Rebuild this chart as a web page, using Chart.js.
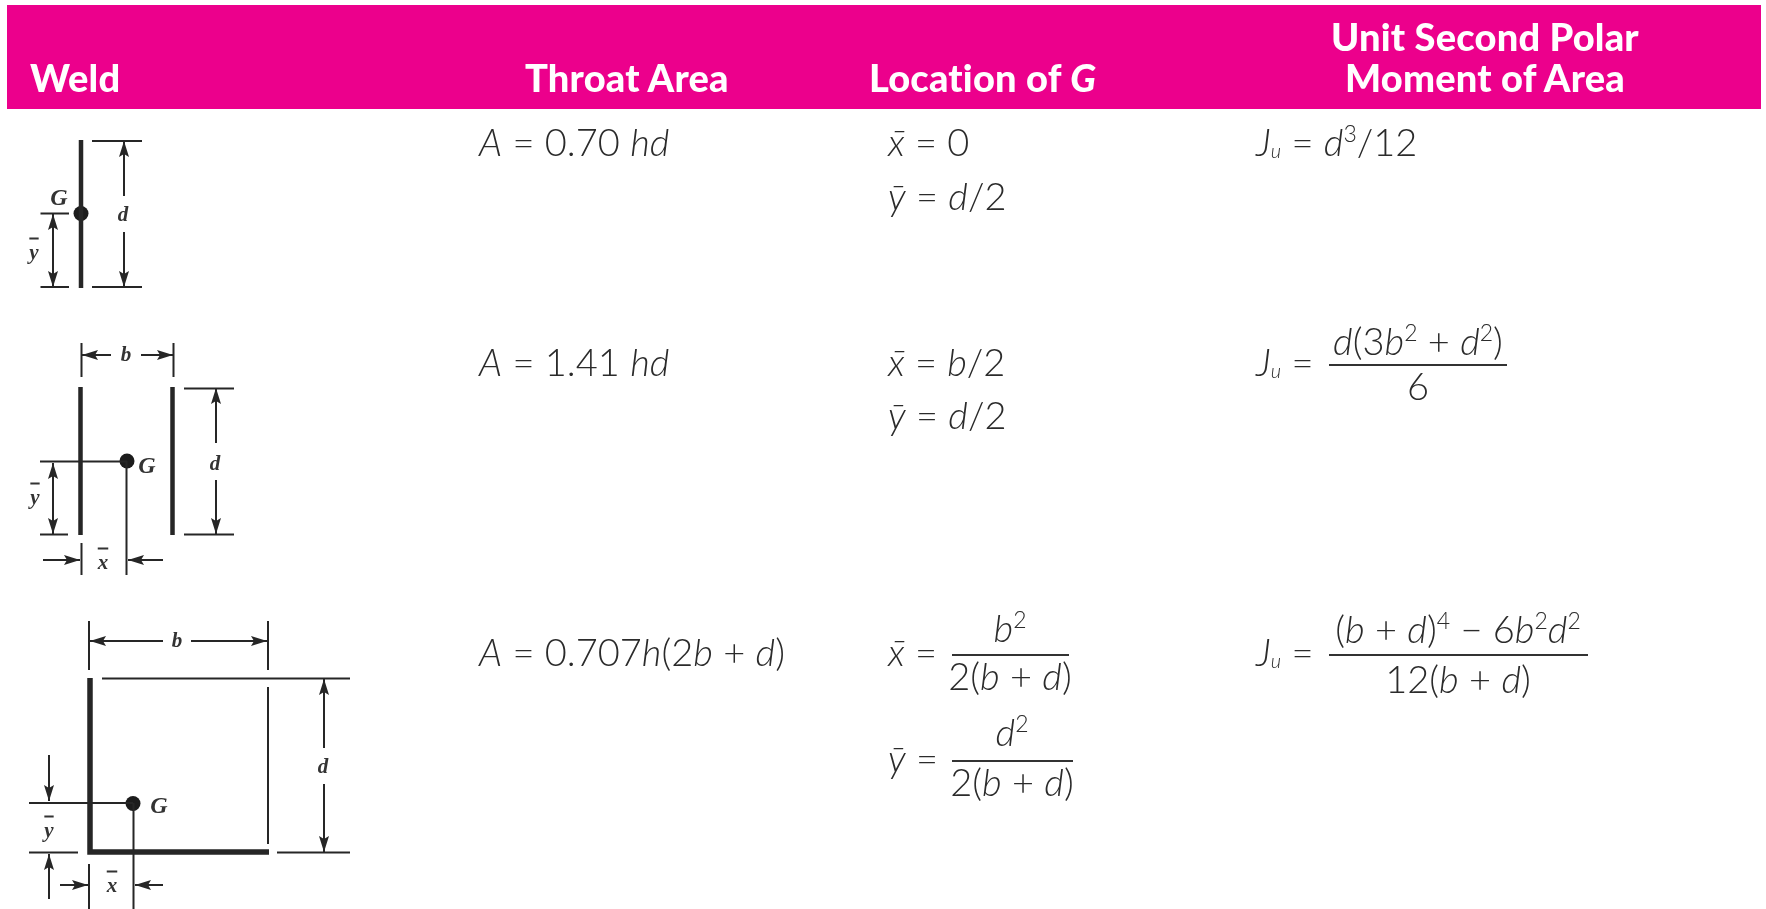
<!DOCTYPE html>
<html>
<head>
<meta charset="utf-8">
<title>Weld table</title>
<script src="https://cdn.jsdelivr.net/npm/chart.js@4"></script>
<style>
  html, body { margin: 0; padding: 0; background: #fff; overflow: hidden; }
  #page { position: relative; width: 1766px; height: 909px; overflow: hidden; filter: blur(0.6px); }
  canvas { position: absolute; left: 0; top: 0; }
  #bar { position: absolute; left: 7px; top: 5px; width: 1754px; height: 104px; background: #ec008c; }
  .t { position: absolute; white-space: nowrap; transform: translateY(-50%); }
  .head { font-family: Lato, sans-serif; font-weight: 900; font-size: 38px; line-height: 41px; color: #fff; letter-spacing: 0.2px; }
  .eq { font-family: Lato, sans-serif; font-weight: 300; font-size: 38px; color: #2b2b2b; }
  .eq sup { font-size: 23px; line-height: 0; }
  .eq sub { font-size: 20px; line-height: 0; vertical-align: -2px; }
  .num { transform: translate(-50%, -50%); }
  .rule { position: absolute; height: 2px; background: #333; }
  .dim { font-family: "Liberation Serif", serif; font-style: italic; font-weight: 700; font-size: 21px; color: #333; transform: translate(-50%, -50%); }
  .dim.big { font-size: 24px; }
  .dim.bar { text-decoration: overline; }
</style>
</head>
<body>
<div id="page">
  <div id="bar"></div>
  <canvas id="grafico" width="1766" height="909"></canvas>
  <div id="testi"></div>
</div>
<script>
const headers = ["Weld", "Throat Area", "Location of <i>G</i>", "Unit Second Polar<br>Moment of Area"];
const throatAreas = ["<i>A</i> = 0.70 <i>hd</i>", "<i>A</i> = 1.41 <i>hd</i>", "<i>A</i> = 0.707<i>h</i>(2<i>b</i> + <i>d</i>)"];
const xBarLabel = "<i>x&#772;</i> = ";
const yBarLabel = "<i>y&#772;</i> = ";
const xBarValues = ["0", "<i>b</i>/2"];
const yBarValues = ["<i>d</i>/2", "<i>d</i>/2"];
const jLabel = "<i>J<sub>u</sub></i> = ";
const fractions = [
  ["<i>d</i>(3<i>b</i><sup>2</sup> + <i>d</i><sup>2</sup>)", "6"],
  ["<i>b</i><sup>2</sup>", "2(<i>b</i> + <i>d</i>)"],
  ["<i>d</i><sup>2</sup>", "2(<i>b</i> + <i>d</i>)"],
  ["(<i>b</i> + <i>d</i>)<sup>4</sup> &minus; 6<i>b</i><sup>2</sup><i>d</i><sup>2</sup>", "12(<i>b</i> + <i>d</i>)"]
];

// tratti dei tre disegni, [x1, y1, x2, y2] nelle unita' della scala
const thickLines = [
  [81, 140, 81, 288],
  [80.5, 387, 80.5, 535], [172.5, 387, 172.5, 535]
];
const thickCorner = [[90, 678], [90, 852], [269, 852]];
const thinLines = [
  [92, 141, 142, 141], [92, 287, 142, 287], [124, 141, 124, 196], [124, 232, 124, 287],
  [40.5, 213.5, 69, 213.5], [40.5, 287, 69, 287], [53, 214, 53, 287],
  [81.5, 343, 81.5, 377], [173.5, 343, 173.5, 377], [82, 355, 111, 355], [141, 355, 173, 355],
  [184, 388.5, 234, 388.5], [184, 534.5, 234, 534.5], [216, 388, 216, 443], [216, 480, 216, 534],
  [40, 461.5, 127, 461.5], [126.5, 461, 126.5, 575], [40, 534.5, 68, 534.5], [53, 463, 53, 534],
  [81.5, 543, 81.5, 575], [43, 560, 80, 560], [128, 560, 163, 560],
  [89, 621, 89, 670], [268, 621, 268, 670], [90, 641, 163, 641], [191, 641, 267, 641],
  [102, 678.5, 350, 678.5], [268, 687, 268, 844], [277, 852.5, 350, 852.5],
  [324, 679, 324, 748], [324, 784, 324, 852],
  [29, 803, 133, 803], [133.5, 803, 133.5, 909], [29, 852.5, 78, 852.5],
  [49, 755, 49, 801], [49, 854, 49, 899],
  [89, 864, 89, 909], [60, 885, 88, 885], [135, 885, 163, 885]
];
const arrowsUp = [[124, 149], [53, 222], [216, 396], [53, 471], [324, 687], [49, 862]];
const arrowsDown = [[124, 279], [53, 279], [216, 526], [53, 526], [324, 844], [49, 793]];
const arrowsLeft = [[90, 355], [136, 560], [98, 641], [143, 885]];
const arrowsRight = [[165, 355], [72, 560], [259, 641], [80, 885]];
const centroids = [[81, 213.5], [127, 461], [133, 803.5]];

const ink = "#262626";

function toPoints(list) {
  return list.map((p) => ({ x: p[0], y: p[1] }));
}

// i segmenti stanno in un solo dataset, separati da un punto vuoto
function segmentsToPoints(list) {
  const out = [];
  list.forEach((s) => {
    out.push({ x: s[0], y: s[1] }, { x: s[2], y: s[3] }, { x: null, y: null });
  });
  return out;
}

function arrowHead() {
  const c = document.createElement("canvas");
  c.width = 12;
  c.height = 16;
  const g = c.getContext("2d");
  g.fillStyle = ink;
  g.beginPath();
  g.moveTo(6, 0);
  g.lineTo(11, 16);
  g.lineTo(6, 13);
  g.lineTo(1, 16);
  g.closePath();
  g.fill();
  return c;
}

const head = arrowHead();

function lineSet(data, width) {
  return { data: data, showLine: true, borderColor: ink, borderWidth: width, pointRadius: 0, spanGaps: false, borderCapStyle: "butt" };
}

function arrowSet(list, rotation) {
  return { data: toPoints(list), showLine: false, pointStyle: head, pointRotation: rotation, pointRadius: 6 };
}

new Chart(document.getElementById("grafico"), {
  type: "scatter",
  data: {
    datasets: [
      lineSet(segmentsToPoints(thinLines), 2),
      lineSet(segmentsToPoints(thickLines), 4.5),
      lineSet(toPoints(thickCorner), 5.5),
      arrowSet(arrowsUp, 0),
      arrowSet(arrowsRight, 90),
      arrowSet(arrowsDown, 180),
      arrowSet(arrowsLeft, 270),
      { data: toPoints(centroids), showLine: false, pointStyle: "circle", pointRadius: 7.5, backgroundColor: "#1c1c1c", borderWidth: 0 }
    ]
  },
  options: {
    responsive: false,
    animation: false,
    layout: { padding: 0, autoPadding: false },
    plugins: { legend: { display: false }, tooltip: { enabled: false } },
    scales: {
      x: { type: "linear", display: false, min: 0, max: 1766 },
      y: { type: "linear", display: false, reverse: true, min: 0, max: 909 }
    }
  }
});

// testi veri sopra il canvas
const testi = document.getElementById("testi");

function put(cls, html, x, y) {
  const el = document.createElement("div");
  el.className = "t " + cls;
  el.innerHTML = html;
  el.style.left = x + "px";
  el.style.top = y + "px";
  testi.appendChild(el);
  return el;
}

function rule(x1, x2, y) {
  const el = document.createElement("div");
  el.className = "rule";
  el.style.left = x1 + "px";
  el.style.width = x2 - x1 + "px";
  el.style.top = y + "px";
  testi.appendChild(el);
}

put("head", headers[0], 30, 77);
put("head", headers[1], 525, 77);
put("head", headers[2], 869, 77);
put("head num", headers[3], 1485, 57).style.textAlign = "center";

put("eq", throatAreas[0], 479, 141);
put("eq", throatAreas[1], 479, 361);
put("eq", throatAreas[2], 479, 651);

put("eq", xBarLabel + xBarValues[0], 888, 141);
put("eq", yBarLabel + yBarValues[0], 888, 195);
put("eq", xBarLabel + xBarValues[1], 888, 361);
put("eq", yBarLabel + yBarValues[1], 888, 414);
put("eq", xBarLabel, 888, 651);
put("eq", yBarLabel, 888, 757);

put("eq", jLabel + "<i>d</i><sup>3</sup>/12", 1256, 141);
put("eq", jLabel, 1256, 361);
put("eq", jLabel, 1256, 651);

put("eq num", fractions[0][0], 1418, 340);
rule(1329, 1507, 364);
put("eq num", fractions[0][1], 1418, 385);

put("eq num", fractions[1][0], 1010, 627);
rule(952, 1069, 654);
put("eq num", fractions[1][1], 1010, 675);

put("eq num", fractions[2][0], 1012, 731);
rule(952, 1073, 760);
put("eq num", fractions[2][1], 1012, 781);

put("eq num", fractions[3][0], 1458, 628);
rule(1329, 1588, 654);
put("eq num", fractions[3][1], 1458, 678);

// lettere dei disegni
put("dim big", "G", 59, 197);
put("dim", "d", 123, 214);
put("dim bar", "y", 34, 252);
put("dim", "b", 126, 354);
put("dim big", "G", 147, 465);
put("dim", "d", 215, 463);
put("dim bar", "y", 35, 497);
put("dim bar", "x", 103, 562);
put("dim", "b", 177, 640);
put("dim", "d", 323, 766);
put("dim big", "G", 159, 805);
put("dim bar", "y", 49, 830);
put("dim bar", "x", 112, 885);
</script>
</body>
</html>
